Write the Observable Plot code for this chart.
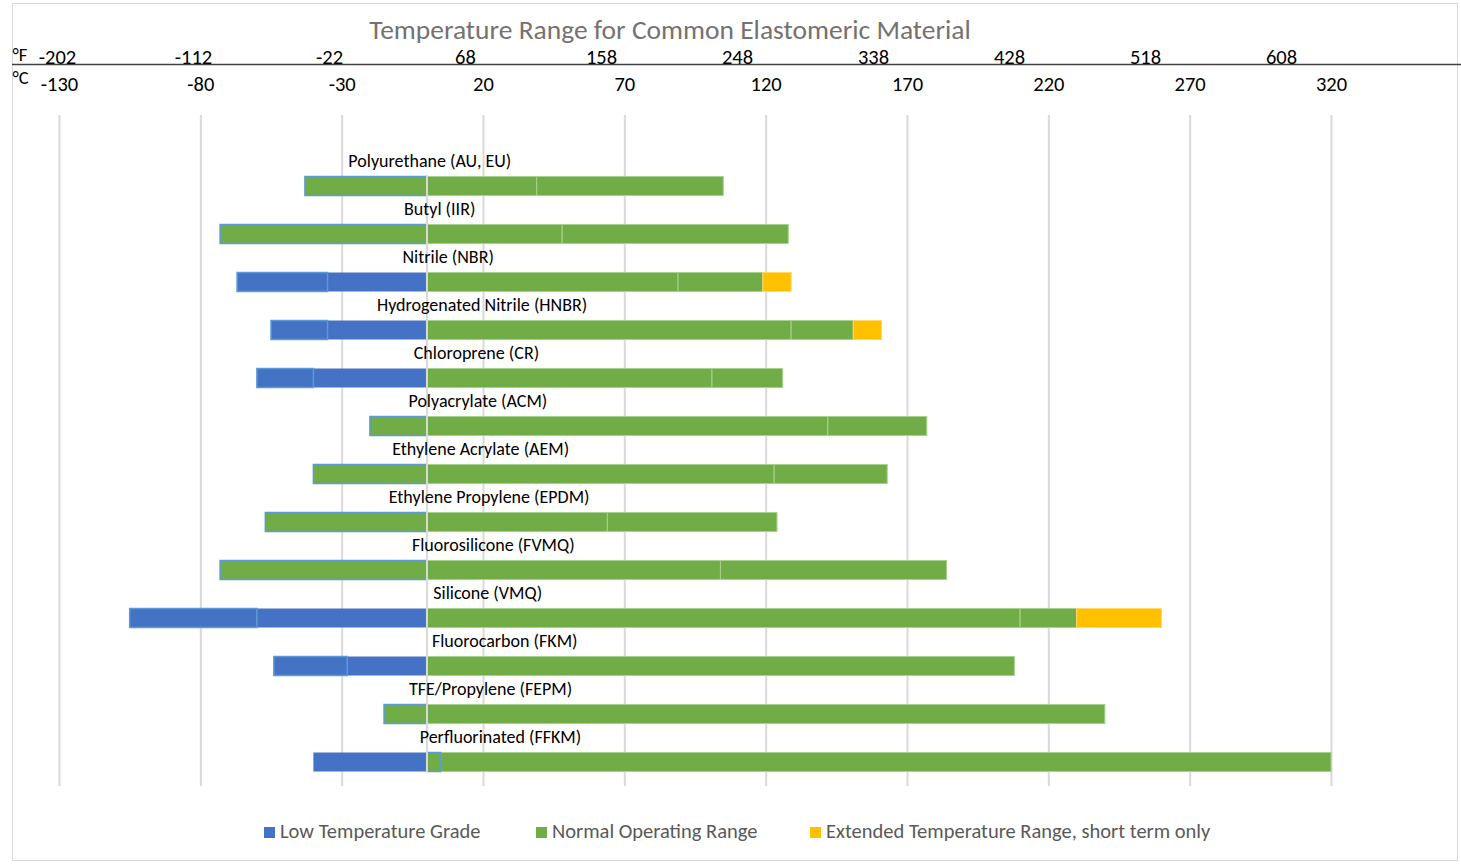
<!DOCTYPE html>
<html>
<head>
<meta charset="utf-8">
<script src="https://cdn.jsdelivr.net/npm/d3@7"></script>
<script src="https://cdn.jsdelivr.net/npm/@observablehq/plot@0.6"></script>
<style>
  html, body { margin: 0; padding: 0; background: #fff; }
  body { width: 1461px; height: 865px; overflow: hidden; position: relative;
         font-family: Carlito, Lato, "Open Sans", sans-serif; }
  #frame { position: absolute; left: 12px; top: 3px; width: 1446px; height: 858px;
           border: 1px solid #d9d9d9; box-sizing: border-box; }
  #title { position: absolute; left: 0; top: 14px; width: 1340px; text-align: center;
           font-size: 27.5px; line-height: 32px; color: #767171; }
  #faxis { position: absolute; left: 0; top: 38px; }
  #chart { position: absolute; left: 0; top: 64px; }
  #legend { position: absolute; left: 264px; top: 820px; font-size: 20.5px; color: #595959;
            white-space: nowrap; line-height: 22px; }
  #legend .item { display: inline-block; }
  #legend .sw { display: inline-block; width: 11px; height: 11px; margin-right: 5px; vertical-align: 0px; }
</style>
</head>
<body>
<div id="frame"></div>
<div id="title">Temperature Range for Common Elastomeric Material</div>
<div id="faxis"></div>
<div id="chart"></div>
<div id="legend"></div>
<script>
// ---- data ----
const materials = [
  "Polyurethane (AU, EU)", "Butyl (IIR)", "Nitrile (NBR)", "Hydrogenated Nitrile (HNBR)",
  "Chloroprene (CR)", "Polyacrylate (ACM)", "Ethylene Acrylate (AEM)", "Ethylene Propylene (EPDM)",
  "Fluorosilicone (FVMQ)", "Silicone (VMQ)", "Fluorocarbon (FKM)", "TFE/Propylene (FEPM)",
  "Perfluorinated (FFKM)"
];
// whether the range below 0 °C belongs to the low temperature grade
const lowGrade     = [false, false, true, true, true, false, false, false, false, true, true, false, true];
// extended low temperature grade minimum (°C)
const lowGradeMin  = [null, null, -67, -55, -60, null, null, null, null, -105, -54, null, null];
// lower limit of the inner (below zero) segment (°C)
const lowMin       = [-43, -73, -35, -35, -40, -20, -40, -57, -73, -60, -28, -15, -40];
// split inside the normal operating range (°C)
const normalSplit  = [39, 48, 89, 129, 101, 142, 123, 64, 104, 210, null, null, 5];
// upper limit of the normal operating range (°C)
const normalMax    = [105, 128, 119, 151, 126, 177, 163, 124, 184, 230, 208, 240, 320];
// upper limit of the extended, short-term range (°C)
const extendedMax  = [null, null, 129, 161, null, null, null, null, null, 260, null, null, null];
// temperature (°C) where each material name is centred
const labelAt      = [1, 4.5, 7.5, 19.5, 17.5, 18, 19, 22, 23.5, 21.5, 27.5, 22.5, 26];
const celsiusTicks    = [-130, -80, -30, 20, 70, 120, 170, 220, 270, 320];
const fahrenheitTicks = [-202, -112, -22, 68, 158, 248, 338, 428, 518, 608];
const seriesNames = ["Low Temperature Grade", "Normal Operating Range", "Extended Temperature Range, short term only"];
const seriesColors = ["#4472C4", "#70AD47", "#FFC000"];

// ---- segment table ----
const segments = [];
materials.forEach((m, i) => {
  if (lowGradeMin[i] != null) segments.push({material: m, x1: lowGradeMin[i], x2: lowMin[i], kind: "lowOuter"});
  segments.push({material: m, x1: lowMin[i], x2: 0, kind: lowGrade[i] ? "lowInner" : "normalNeg"});
  if (normalSplit[i] != null) {
    segments.push({material: m, x1: 0, x2: normalSplit[i], kind: i === 12 ? "normalPosBlue" : "normalPos"});
    segments.push({material: m, x1: normalSplit[i], x2: normalMax[i], kind: "normalPos"});
  } else {
    segments.push({material: m, x1: 0, x2: normalMax[i], kind: "normalPos"});
  }
  if (extendedMax[i] != null) segments.push({material: m, x1: normalMax[i], x2: extendedMax[i], kind: "ext"});
});

const FONT = "Carlito, Lato, 'Open Sans', sans-serif";
const inset = {insetTop: 14.5, insetBottom: 14.5};
const of = k => segments.filter(d => d.kind === k);

// ---- °F axis (separate scale, as in the reference) ----
const fplot = Plot.plot({
  width: 1461, height: 27, marginTop: 0, marginBottom: 1, marginLeft: 12, marginRight: 0,
  x: {domain: [-202, 608], range: [57, 1281], axis: null},
  y: {domain: [0, 1], axis: null},
  style: {fontFamily: FONT, background: "transparent", overflow: "visible"},
  marks: [
    Plot.ruleY([0], {stroke: "#404040", strokeWidth: 1.5}),
    Plot.text(fahrenheitTicks, {x: d => d, frameAnchor: "bottom", lineAnchor: "middle", dy: -7,
      text: d => String(d), fontSize: 20.5, fill: "#000"}),
    Plot.text(["°F"], {frameAnchor: "bottom-left", textAnchor: "start", lineAnchor: "middle", dy: -9,
      fontSize: 18.5, fill: "#000"})
  ]
});
document.getElementById("faxis").appendChild(fplot);

// ---- main chart ----
const chart = Plot.plot({
  width: 1461, height: 736, marginTop: 51, marginBottom: 14, marginLeft: 12, marginRight: 0,
  x: {domain: [-130, 320], range: [59, 1331], axis: null},
  y: {domain: materials, range: [98, 722], padding: 0, axis: null},
  style: {fontFamily: FONT, background: "transparent", overflow: "visible"},
  marks: [
    Plot.gridX(celsiusTicks, {stroke: "#d9d9d9", strokeOpacity: 1, strokeWidth: 2}),
    Plot.axisX(celsiusTicks, {anchor: "top", tickSize: 0, tickPadding: 25, fontSize: 20.5, fill: "#000",
      tickFormat: d => String(d)}),
    Plot.barX(of("normalPos"), {x1: "x1", x2: "x2", y: "material", fill: "#70AD47", stroke: "#A9D18E", strokeWidth: 1, ...inset}),
    Plot.barX(of("normalPosBlue"), {x1: "x1", x2: "x2", y: "material", fill: "#70AD47", stroke: "#5B9BD5", strokeWidth: 1.5, ...inset}),
    Plot.barX(of("ext"), {x1: "x1", x2: "x2", y: "material", fill: "#FFC000", stroke: "#FFD966", strokeWidth: 1, ...inset}),
    Plot.barX(of("lowInner"), {x1: "x1", x2: "x2", y: "material", fill: "#4472C4", ...inset}),
    Plot.barX(of("normalNeg"), {x1: "x1", x2: "x2", y: "material", fill: "#70AD47", stroke: "#5B9BD5", strokeWidth: 1.5, ...inset}),
    Plot.barX(of("lowOuter"), {x1: "x1", x2: "x2", y: "material", fill: "#4472C4", stroke: "#5B9BD5", strokeWidth: 1.5, ...inset}),
    Plot.ruleX([0], {stroke: "#d9d9d9", strokeWidth: 2, insetTop: 60, insetBottom: 14}),
    Plot.text(materials, {x: (d, i) => labelAt[i], y: d => d, dy: -25, fontSize: 18, fill: "#000"}),
    Plot.text(["°C"], {frameAnchor: "top-left", textAnchor: "start", lineAnchor: "middle", dy: -37,
      fontSize: 18.5, fill: "#000"})
  ]
});
document.getElementById("chart").appendChild(chart);

// ---- legend ----
const legend = document.getElementById("legend");
const itemWidths = [272, 274, 420];
seriesNames.forEach((name, i) => {
  const item = document.createElement("span");
  item.className = "item";
  item.style.width = itemWidths[i] + "px";
  const sw = document.createElement("span");
  sw.className = "sw";
  sw.style.background = seriesColors[i];
  item.appendChild(sw);
  item.appendChild(document.createTextNode(name));
  legend.appendChild(item);
});
</script>
</body>
</html>
